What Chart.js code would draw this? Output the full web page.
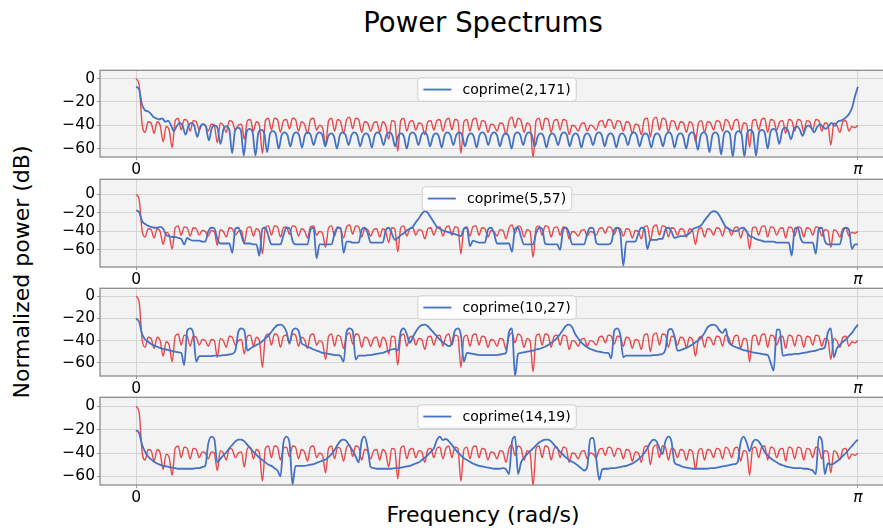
<!DOCTYPE html>
<html><head><meta charset="utf-8">
<script src="https://cdn.jsdelivr.net/npm/chart.js@4.4.1/dist/chart.umd.min.js"></script>
<style>
html,body{margin:0;padding:0;background:#fff;width:883px;height:531px;overflow:hidden;position:relative;font-family:"DejaVu Sans",sans-serif;}
.t{position:absolute;white-space:nowrap;color:#000;line-height:1;}
canvas{position:absolute;left:0;}
</style></head><body>
<div class="t" style="left:483px;top:23px;transform:translate(-50%,-50%);font-size:27.5px;">Power Spectrums</div>
<div class="t" style="left:483px;top:515px;transform:translate(-50%,-50%);font-size:22px;">Frequency (rad/s)</div>
<div class="t" style="left:22px;top:272px;transform:translate(-50%,-50%) rotate(-90deg);font-size:22px;">Normalized power (dB)</div>
<script>
// ---------------- data ----------------
const panelLabels = ['coprime(2,171)', 'coprime(5,57)', 'coprime(10,27)', 'coprime(14,19)'];
const yTickValues = [0, -20, -40, -60];
const xTickValues = [0, Math.PI];
const xTickLabels = ['0', 'π'];
const yLimits = [[-67.2, 7.2], [-78.4, 16.35], [-71.9, 7.2], [-67.4, 7.7]];

// reference spectrum (red), same in every panel
const redPower = [
 0,-5,-39,
 -46,-37,-38, -47,-37,-40, -54,-41,-44, -59,-36,-34, -44,-35,-36,
 -45,-36,-37, -44,-39,-40, -45,-39,-40, -55,-38,-40, -46,-36,-37,
 -44,-40,-39, -52,-36,-35, -45,-37,-40, -64,-36,-34, -44,-34,-35,
 -46,-36,-35, -43,-34,-35, -45,-37,-39, -47,-35,-34, -44,-40,-42,
 -57,-36,-34, -45,-35,-37, -47,-35,-33, -43,-34,-35, -46,-37,-38,
 -45,-38,-37, -46,-37,-40, -52,-36,-37, -62,-36,-34, -45,-37,-36,
 -44,-38,-39, -48,-37,-36, -44,-36,-35, -45,-36,-34, -44,-35,-36,
 -64,-37,-35, -45,-35,-34, -44,-36,-37, -46,-39,-40, -45,-38,-39,
 -48,-36,-33, -42,-34,-36, -46,-38,-40, -68,-36,-34, -44,-34,-35,
 -46,-36,-35, -44,-35,-36, -48,-40,-41, -45,-39,-38, -45,-40,-41,
 -44,-37,-36, -42,-35,-36, -43,-36,-37, -45,-37,-38, -47,-39,-40,
 -48,-35,-34, -50,-35,-33, -44,-34,-35, -46,-36,-37, -44,-37,-38,
 -46,-37,-39, -54,-38,-36, -46,-37,-38, -44,-36,-37, -45,-35,-37,
 -44,-36,-35, -47,-38,-39, -59,-36,-35, -44,-35,-34, -46,-35,-36,
 -44,-37,-36, -47,-35,-36, -45,-35,-36, -46,-36,-37, -44,-35,-36,
 -45,-38,-39, -57,-38,-40, -46,-37,-36, -45,-41,-42,
 -40
];

// coprime(2,171)
const blue2_171 = [
 -7,-9,-22,-27,-28,-30,-33,-34,-35,-34,-37,-36,-40,
 -45,-40.5,-38,-40.5, -48,-40.5,-38,-40.5, -50,-41.5,-39,-41.5, -53,-42.5,-40,-42.5,
 -56,-43.5,-41,-43.5, -64,-44.5,-42,-44.5, -66,-45.5,-43,-45.5, -66,-46.5,-44,-46.5,
 -63,-47.5,-45,-47.5, -60,-48.5,-46,-48.5, -58,-48.5,-46,-48.5, -59,-48.5,-46,-48.5,
 -57,-48.5,-46,-48.5, -58,-49.5,-47,-49.5, -60,-48.5,-46,-48.5, -57,-48.5,-46,-48.5,
 -58,-49.5,-47,-49.5, -59,-48.5,-46,-48.5, -57,-48.5,-46,-48.5, -58,-49.5,-47,-49.5,
 -60,-48.5,-46,-48.5, -57,-48.5,-46,-48.5, -58,-49.5,-47,-49.5, -59,-48.5,-46,-48.5,
 -57,-48.5,-46,-48.5, -58,-49.5,-47,-49.5, -59,-48.5,-46,-48.5, -57,-48.5,-46,-48.5,
 -58,-49.5,-47,-49.5, -60,-48.5,-46,-48.5, -57,-48.5,-46,-48.5, -58,-49.5,-47,-49.5,
 -59,-49.5,-47,-49.5, -57,-48.5,-46,-48.5, -58,-49.5,-47,-49.5, -59,-49.5,-47,-49.5,
 -57,-48.5,-46,-48.5, -58,-49.5,-47,-49.5, -59,-49.5,-47,-49.5, -57,-48.5,-46,-48.5,
 -58,-49.5,-47,-49.5, -59,-49.5,-47,-49.5, -58,-48.5,-46,-48.5, -59,-49.5,-47,-49.5,
 -60,-48.5,-46,-48.5, -61,-48.5,-46,-48.5, -63,-48.5,-46,-48.5, -65,-47.5,-45,-47.5,
 -67,-47.5,-45,-47.5, -67,-46.5,-44,-46.5, -66,-46.5,-44,-46.5, -60,-45.5,-43,-45.5,
 -56,-44.5,-42,-44.5, -52,-43.5,-41,-43.5, -49,-42.5,-40,-42.5, -46,-41.5,-39,-41.5,
 -43,-40.5,-38,-40.5,
 -37,-36,-35,-33,-30,-25,-15,-7
];

// coprime(5,57)
const blue5_57 = [
 -17,-19,-29,-32,-34,-35,-36,-36,-35,-37,
 -44,-45,-46,-46,-47,-48,-54,-47,-49,-50,
 -50,-50,-51,-51,-40,-36,-36.5,-48,-53,-53,
 -53,-53,-63,-37,-36,-44,-53,-53,-53,-54,
 -54,-66,-37,-36,-45,-54,-54,-54,-54,-44,
 -36,-36.5,-50,-54,-54,-54,-54,-54,-38,-36,
 -69,-54,-54,-54,-54,-54,-42,-36,-36.5,-63,
 -51,-51,-52,-52,-52,-38,-36,-42,-52,-52,
 -52,-52,-52,-39,-36,-42,-49,-47,-44,-42,
 -39,-37,-35,-30,-26,-21,-18,-20,-25,-30,
 -35,-37,-39,-40,-41,-42,-43,-44,-45,-37,
 -36,-56,-50,-51,-52,-52,-52,-38,-36,-42,
 -53,-53,-53,-53,-53,-62,-37,-36,-46,-54,
 -54,-54,-54,-42,-36,-37,-53,-54,-54,-54,
 -54,-60,-38,-36,-42,-54,-54,-54,-54,-54,
 -42,-36,-36.5,-52,-54,-54,-54,-54,-52,-38,
 -36,-42,-77,-51,-51,-51,-51,-42,-36,-37,
 -59,-49,-49,-49,-48,-48,-38,-36,-40,-47,
 -46,-45,-45,-44,-42,-38,-36,-35,-33,-28,
 -24,-20,-18,-19,-23,-29,-35,-37,-39,-40,
 -39,-36.5,-36,-40,-45,-46,-48,-49,-50,-51,
 -51,-51,-51,-52,-52,-52,-52,-52,-66,-37,
 -36,-48,-52,-52,-52,-52,-64,-37,-36,-50,
 -54,-54,-54,-54,-54,-40,-36,-38,-59,-54,-54
];

// coprime(10,27)
const blue10_27 = [
 -20,-23,-34,-39,-41,-43,-44.5,-45.5,-46.5,-47.5,
 -48,-48.7,-49.3,-50,-50.5,-51,-62,-31,-29,-33,
 -59,-54,-54,-54,-54,-54,-53.5,-53.5,-53.5,-53,
 -53,-52.5,-52,-49,-32,-29,-31,-49,-47,-45.5,
 -44,-42.5,-40.5,-38,-35.5,-32,-28.5,-26,-25.5,-27,
 -32,-42,-31,-29,-31,-42,-44,-45.5,-46.5,-48,
 -49,-50,-51,-51.5,-52,-52.5,-53,-53,-54,-59,
 -32,-29,-31,-57,-53.5,-53.5,-53.5,-53,-53,-52.5,
 -52,-51.5,-51,-50,-49,-48,-47.5,-49,-32,-29,
 -34,-42,-37,-32,-28,-26,-25.5,-27,-30,-33,
 -36,-39,-41.5,-43.5,-45,-42,-31,-29,-35,-59,
 -51,-51.5,-52,-52.5,-53,-53,-53,-53,-53,-53,
 -53,-52.5,-52,-51,-32,-29,-72,-52,-51,-50.5,
 -50,-49.5,-49,-48,-47.5,-46.5,-45.5,-44,-42,-40,
 -37.5,-34,-30,-26.5,-25.5,-28,-34,-38,-41.5,-44,
 -46,-47.5,-48.5,-49.5,-50,-50.5,-51,-51,-56,-31,
 -29,-35,-55,-53.5,-53.5,-53.5,-53.5,-53.5,-53.5,-53.5,
 -53.5,-53.5,-53,-53,-52.5,-52,-48,-30.5,-29.5,-36,
 -49,-48.5,-47.5,-46.5,-45,-43.5,-41.5,-39.5,-37,-33,
 -28,-26,-25.5,-27,-31,-33,-29.5,-41,-44,-45.5,
 -46.5,-47.5,-48.5,-49,-50,-50.5,-51,-51.5,-52,-52.5,
 -53,-60,-67,-30,-30,-53.5,-53,-52.5,-52.5,-52,
 -52,-51.5,-51,-50.5,-50,-49.5,-49,-48,-47.5,-46,
 -33,-29,-55,-47,-44,-41,-39,-36,-33,-29,-25.5
];

// coprime(14,19)
const blue14_19 = [
 -20.5,-23,-33,-39,-43,-45.5,-47.5,-49,-50,-51,
 -51.5,-52,-52.5,-53,-53.5,-53.5,-53.5,-53.5,-53.5,-53.5,
 -53,-53,-52,-51,-32,-26,-28,-48,-45,-42,
 -39.5,-36,-33,-30,-28.5,-28.5,-30,-33,-36,-39,
 -41.5,-44,-46,-48,-50,-51,-53,-55,-60,-31,
 -26,-31,-67,-51,-51,-51,-51,-50.5,-50,-49.5,
 -48.5,-47.5,-46.5,-45.5,-43.5,-41,-37.5,-33,-29.5,-28.5,
 -30,-34,-38,-43,-48,-30,-26,-36,-52,-53,
 -53.5,-53.5,-53.5,-53.5,-53.5,-53.5,-53,-53,-52.5,-52,
 -51.5,-51,-50,-49,-48,-46,-44,-41.5,-39,-36,
 -29,-26,-29,-28,-30,-33,-36.5,-39.5,-42,-44.5,
 -46,-47.5,-49,-50,-51,-51.5,-52,-52.5,-53,-53.5,
 -53.5,-53.5,-53,-54,-58,-30,-26,-58,-48,-44,
 -41,-38.5,-36,-33.5,-31,-29.5,-28.5,-28.5,-30,-33,
 -36,-39,-41.5,-44,-46,-47.5,-49,-51,-53,-55,
 -52,-28,-27,-45,-63,-54,-53.5,-53.5,-53,-53,
 -52.5,-52,-51.5,-51,-50,-49,-47.5,-45.5,-43,-40,
 -36,-31,-28.5,-30,-36,-41,-30,-26,-30,-48,
 -50,-51,-52,-52.5,-53,-53.5,-53.5,-53.5,-53.5,-53.5,
 -53.5,-53,-53,-52.5,-52,-51.5,-51,-50.5,-50,-49.5,
 -48,-31,-26,-31,-38.5,-31,-28.5,-30,-34,-39,
 -42,-44.5,-46.5,-48,-49.5,-50.5,-51.5,-52,-52.5,-53,
 -53,-53,-53.5,-53.5,-54,-55,-58,-26,-29,-58,
 -49,-50,-49,-47,-45,-42.5,-40,-37,-34,-31,-28.5
];

const blueSeries = [blue2_171, blue5_57, blue10_27, blue14_19];

// ---------------- style / layout ----------------
const RED = '#e6494c';
const BLUE = '#4472c4';
const PLOT_BG = '#f3f3f3';
const GRID = '#d4d4d4';
const SPINE = '#8c8c8c';
const FONT = '"DejaVu Sans", sans-serif';
const TICK_FS = 15.5;
const panelTops = [67, 176, 285, 394];
const panelBottoms = [157, 267, 376, 485];
const PAD_TOP = 8, AXIS_H = 26, CANVAS_W = 900;

function toXY(arr) {
  const n = arr.length - 1;
  return arr.map((v, i) => ({ x: i * Math.PI / n, y: v }));
}
function fmtY(v) { return v === 0 ? '0' : (v < 0 ? '\u2212' + Math.abs(v) : String(v)); }

const decoPlugin = {
  id: 'deco',
  beforeDraw(chart) {
    const { ctx, chartArea: a } = chart;
    ctx.save();
    ctx.fillStyle = PLOT_BG;
    ctx.fillRect(a.left, a.top, a.right - a.left, a.bottom - a.top);
    ctx.restore();
  },
  afterDatasetsDraw(chart, args, opts) {
    const { ctx, chartArea: a } = chart;
    ctx.save();
    ctx.strokeStyle = SPINE; ctx.lineWidth = 1.3;
    ctx.strokeRect(a.left, a.top, a.right - a.left, a.bottom - a.top);
    const fs = 14;
    ctx.font = fs + 'px ' + FONT;
    const tw = ctx.measureText(opts.label).width;
    const pad = 0.4 * fs, handle = 2 * fs, gap = 0.8 * fs;
    const w = pad + handle + gap + tw + pad, h = 23.5;
    const cx = (a.left + a.right) / 2;
    const x0 = cx - w / 2, y0 = a.top + 7.5;
    ctx.beginPath();
    if (ctx.roundRect) ctx.roundRect(x0, y0, w, h, 3); else ctx.rect(x0, y0, w, h);
    ctx.fillStyle = 'rgba(255,255,255,0.8)'; ctx.fill();
    ctx.strokeStyle = '#d0d0d0'; ctx.lineWidth = 1; ctx.stroke();
    ctx.beginPath();
    ctx.moveTo(x0 + pad, y0 + h / 2); ctx.lineTo(x0 + pad + handle, y0 + h / 2);
    ctx.strokeStyle = BLUE; ctx.lineWidth = 1.8; ctx.stroke();
    ctx.fillStyle = '#000'; ctx.textBaseline = 'middle'; ctx.textAlign = 'left';
    ctx.fillText(opts.label, x0 + pad + handle + gap, y0 + h / 2 + 0.5);
    ctx.restore();
  }
};

function makePanel(k) {
  const top = panelTops[k], h = panelBottoms[k] - top;
  const cv = document.createElement('canvas');
  cv.width = CANVAS_W; cv.height = PAD_TOP + h + AXIS_H;
  cv.style.width = CANVAS_W + 'px'; cv.style.height = cv.height + 'px';
  cv.style.top = (top - PAD_TOP) + 'px';
  document.body.appendChild(cv);
  const lineBase = { pointRadius: 0, tension: 0, cubicInterpolationMode: 'monotone', clip: 0, fill: false };
  new Chart(cv, {
    type: 'line',
    data: {
      datasets: [
        Object.assign({ label: panelLabels[k], data: toXY(blueSeries[k]), borderColor: BLUE, borderWidth: 1.8 }, lineBase),
        Object.assign({ label: 'reference', data: toXY(redPower), borderColor: RED, borderWidth: 1.4 }, lineBase)
      ]
    },
    options: {
      responsive: false, animation: false, devicePixelRatio: 1,
      events: [],
      layout: { padding: { top: PAD_TOP, right: 6, left: 0, bottom: 0 } },
      plugins: { legend: { display: false }, tooltip: { enabled: false }, deco: { label: panelLabels[k] } },
      scales: {
        x: {
          type: 'linear', min: -0.05 * Math.PI, max: 1.05 * Math.PI,
          afterBuildTicks: ax => { ax.ticks = xTickValues.map(v => ({ value: v })); },
          afterFit: ax => { ax.height = AXIS_H; },
          ticks: {
            autoSkip: false, maxRotation: 0, color: '#000', padding: 1,
            callback: (v, i) => xTickLabels[i],
            font: ctx => ({ family: FONT, size: TICK_FS, style: (ctx.tick && ctx.tick.value > 1) ? 'italic' : 'normal' })
          },
          grid: { color: GRID, lineWidth: 1, drawTicks: true, tickLength: 3, tickColor: '#9a9a9a' },
          border: { display: false }
        },
        y: {
          type: 'linear', min: yLimits[k][0], max: yLimits[k][1],
          afterBuildTicks: ax => { ax.ticks = yTickValues.map(v => ({ value: v })); },
          afterFit: ax => { ax.width = 100; },
          ticks: { autoSkip: false, color: '#000', padding: 2, font: { family: FONT, size: TICK_FS },
                   callback: v => fmtY(v) },
          grid: { color: GRID, lineWidth: 1, drawTicks: true, tickLength: 3, tickColor: '#9a9a9a' },
          border: { display: false }
        }
      }
    },
    plugins: [decoPlugin]
  });
}
for (let k = 0; k < 4; k++) makePanel(k);
</script>
</body></html>
